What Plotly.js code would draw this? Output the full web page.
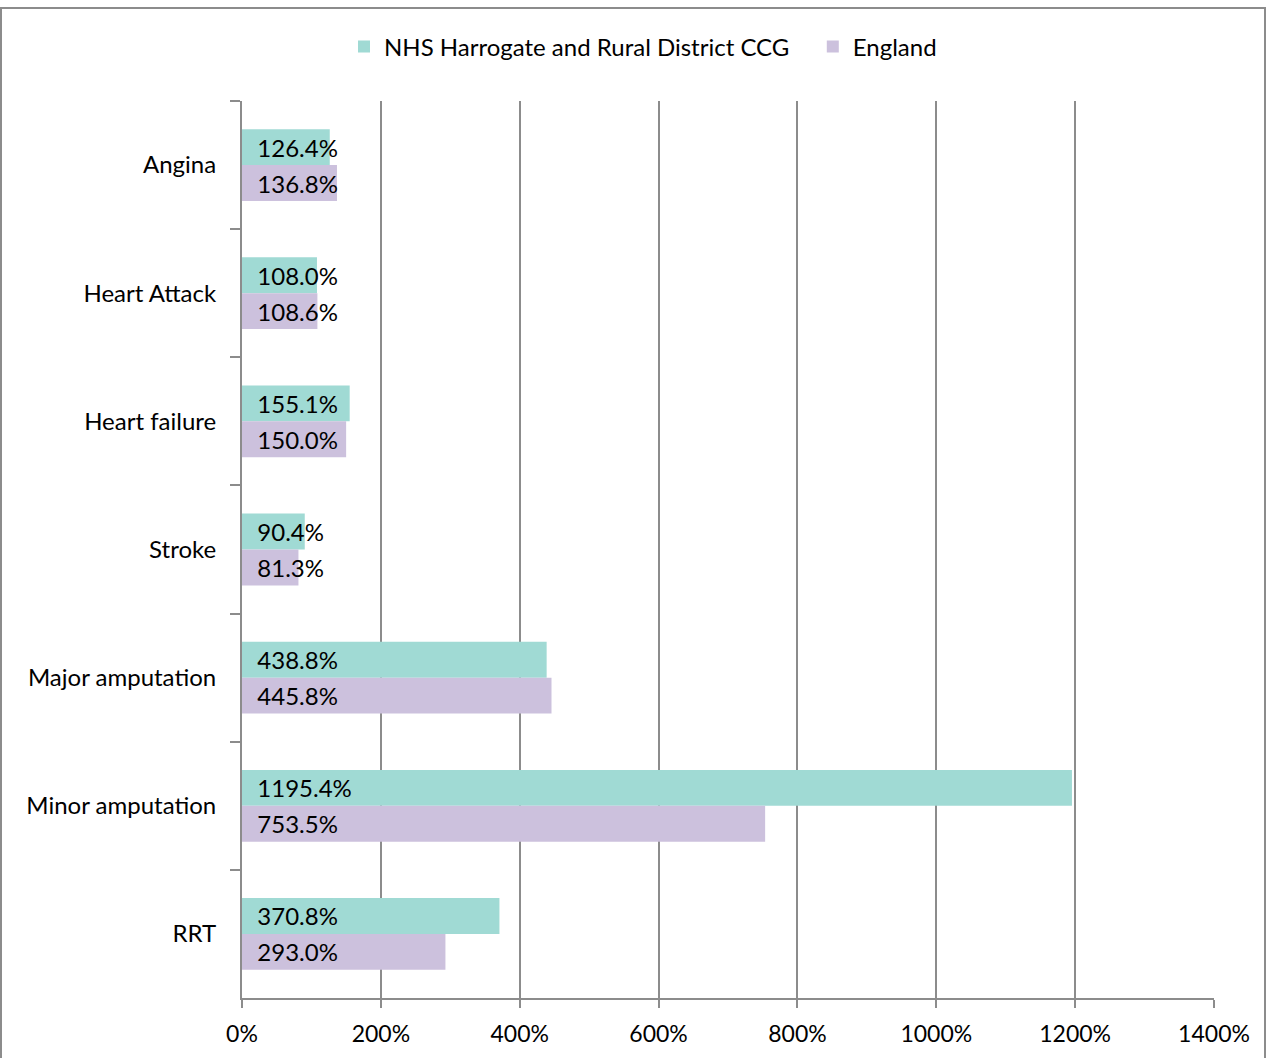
<!DOCTYPE html>
<html>
<head>
<meta charset="utf-8">
<script src="https://cdn.plot.ly/plotly-3.0.1.min.js"></script>
<style>
  html, body { margin: 0; padding: 0; background: #fff; }
  #frame { position: absolute; left: 0px; top: 7px; width: 1262px; height: 1060px;
           border: 2px solid #8c8c8c; box-sizing: content-box; pointer-events: none; z-index: 5; }
  #chart { position: absolute; left: 0; top: 0; width: 1266px; height: 1058px; }
</style>
</head>
<body>
<div id="chart"></div>
<div id="frame"></div>
<script>
const categories = ["Angina", "Heart Attack", "Heart failure", "Stroke", "Major amputation", "Minor amputation", "RRT"];
const seriesNames = ["NHS Harrogate and Rural District CCG", "England"];
const ccgValues = [126.4, 108.0, 155.1, 90.4, 438.8, 1195.4, 370.8];
const englandValues = [136.8, 108.6, 150.0, 81.3, 445.8, 753.5, 293.0];
const xTickValues = [0, 200, 400, 600, 800, 1000, 1200, 1400];

const FONT = "Lato, 'Open Sans', sans-serif";
const pad = "\u00a0\u00a0";
function labels(vals) { return vals.map(v => pad + v.toFixed(1) + "%"); }

const traces = [
  { type: "bar", orientation: "h", name: seriesNames[0] + "\u00a0\u00a0\u00a0", y: categories, x: ccgValues,
    marker: { color: "rgb(160,218,212)" }, text: labels(ccgValues), textposition: "inside",
    insidetextanchor: "start", constraintext: "none", textfont: { family: FONT, size: 24, color: "#000" },
    hoverinfo: "x+y" },
  { type: "bar", orientation: "h", name: seriesNames[1], y: categories, x: englandValues,
    marker: { color: "rgb(204,193,221)" }, text: labels(englandValues), textposition: "inside",
    insidetextanchor: "start", constraintext: "none", textfont: { family: FONT, size: 24, color: "#000" },
    hoverinfo: "x+y" }
];

const layout = {
  width: 1266, height: 1058,
  margin: { l: 242, r: 52, t: 101, b: 60 },
  paper_bgcolor: "#fff", plot_bgcolor: "#fff",
  font: { family: FONT, size: 24, color: "#000" },
  barmode: "group", bargap: 0.44, bargroupgap: 0,
  showlegend: true,
  legend: { orientation: "h", x: 0.5 + 10/1266, xanchor: "center", xref: "container", y: 1 - 47/1058, yanchor: "middle",
            yref: "container", font: { family: FONT, size: 24 }, itemwidth: 20, traceorder: "normal" },
  xaxis: { range: [0, 1400], tickvals: xTickValues, ticktext: xTickValues.map(v => v + "%"),
           showgrid: true, gridcolor: "#8c8c8c", gridwidth: 2, zeroline: false,
           showline: true, linecolor: "#8c8c8c", linewidth: 2,
           ticks: "outside", ticklen: 8, tickwidth: 2, tickcolor: "#8c8c8c",
           ticklabelstandoff: 6,
           tickfont: { family: FONT, size: 23 }, fixedrange: true },
  yaxis: { type: "category", autorange: "reversed", showgrid: false, zeroline: false,
           showline: true, linecolor: "#8c8c8c", linewidth: 2,
           ticks: "outside", tickson: "boundaries", ticklen: 10, tickwidth: 2, tickcolor: "#8c8c8c",
           ticklabelstandoff: 19,
           tickfont: { family: FONT, size: 24 }, fixedrange: true }
};

Plotly.newPlot("chart", traces, layout, { displayModeBar: false, staticPlot: true });
</script>
</body>
</html>
